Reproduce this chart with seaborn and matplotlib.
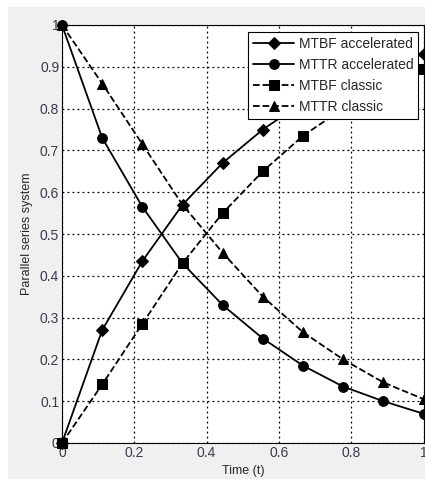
import numpy as np
import pandas as pd
import matplotlib
matplotlib.use('Agg')
import matplotlib.pyplot as plt
import seaborn as sns
from matplotlib.patches import Rectangle

# Данные
t = [0, 1/9, 2/9, 3/9, 4/9, 5/9, 6/9, 7/9, 8/9, 1]
mtbf_acc = [0, 0.27, 0.435, 0.57, 0.67, 0.75, 0.815, 0.865, 0.90, 0.93]
mttr_acc = [1, 0.73, 0.565, 0.43, 0.33, 0.25, 0.185, 0.135, 0.10, 0.07]
mtbf_cls = [0, 0.14, 0.285, 0.43, 0.55, 0.65, 0.735, 0.80, 0.855, 0.895]
mttr_cls = [1, 0.86, 0.715, 0.57, 0.455, 0.35, 0.265, 0.20, 0.145, 0.105]
names = ['MTBF accelerated', 'MTTR accelerated', 'MTBF classic', 'MTTR classic']

sns.set_style('white')
plt.rcParams['font.family'] = ['Liberation Sans', 'DejaVu Sans']

fig = plt.figure(figsize=(4.25, 4.79), dpi=100)
fig.patch.set_facecolor('white')
# серый фон окна
fig.patches.append(Rectangle((8 / 425, 0), 1, 1 - 7 / 479, transform=fig.transFigure,
                             facecolor='#f0f0f0', edgecolor='none', zorder=-10))

ax = fig.add_axes([62 / 425, 1 - 443 / 479, 361.5 / 425, 418 / 479])
ax.set_facecolor('white')

styles = [('D', '-', 6), ('o', '-', 7), ('s', '--', 7), ('^', '--', 7)]
series = [mtbf_acc, mttr_acc, mtbf_cls, mttr_cls]
for name, vals, (m, ls, ms) in zip(names, series, styles):
    sns.lineplot(x=t, y=vals, ax=ax, color='black', marker=m, linestyle=ls,
                 markersize=ms, linewidth=1.3, markeredgecolor='black', label=name,
                 clip_on=False)

ax.set_xlim(0, 1)
ax.set_ylim(0, 1)
ax.set_xticks([0, 0.2, 0.4, 0.6, 0.8, 1])
ax.set_xticklabels(['0', '0.2', '0.4', '0.6', '0.8', '1'])
ax.set_yticks(np.arange(0, 1.01, 0.1))
ax.set_yticklabels(['0', '0.1', '0.2', '0.3', '0.4', '0.5', '0.6', '0.7', '0.8', '0.9', '1'])
ax.grid(True, color='black', linestyle=(0, (1.5, 2.5)), linewidth=0.9)
ax.tick_params(labelsize=10, colors='#3a3a4a', length=3, direction='in', pad=2)
for s in ax.spines.values():
    s.set_color('black')
    s.set_linewidth(0.8)

ax.set_xlabel('Time (t)', fontsize=9, labelpad=4)
ax.set_ylabel('Parallel series system', fontsize=9, labelpad=5)

leg = ax.legend(loc='upper right', bbox_to_anchor=(0.985, 0.983), borderaxespad=0,
                fontsize=10, frameon=True, fancybox=False, edgecolor='black', framealpha=1,
                handlelength=3.0, borderpad=0.35, labelspacing=0.5, handletextpad=0.3)
leg.get_frame().set_linewidth(0.8)

fig.savefig('out.png', dpi=100, facecolor=fig.get_facecolor())
